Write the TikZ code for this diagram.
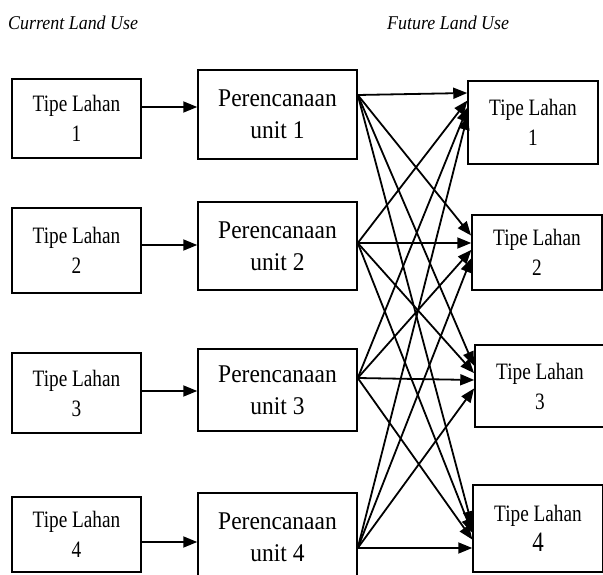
\documentclass[tikz,border=0pt]{standalone}
\usepackage{fontspec}
\setmainfont{Liberation Serif}
\newfontfamily\boxfont{Liberation Serif}[FakeStretch=0.82]
\newfontfamily\unitfont{Liberation Serif}[FakeStretch=0.92]
\usepackage{tikz}
\usetikzlibrary{calc}
\usetikzlibrary{arrows.meta}
\tikzstyle{landnode}=[black, draw=black, line width=1.5pt, shape=rectangle, fill=white, inner sep=0pt, align=center, font=\boxfont\fontsize{23.5}{30}\selectfont]
\tikzstyle{unitnode}=[black, draw=black, line width=1.5pt, shape=rectangle, fill=white, inner sep=0pt, align=center, minimum width=159pt, font=\unitfont\fontsize{25.5}{32}\selectfont]
\tikzstyle{titlenode}=[black, anchor=base west, inner sep=0pt, font=\unitfont\fontsize{19.5}{22}\selectfont\itshape]
\tikzstyle{flow}=[-{Triangle[length=14pt, width=11pt]}, line width=1.8pt, color=black]

\begin{document}
\begin{tikzpicture}[x=1pt, y=-1pt]
\clip (0,0) rectangle (603,575);
\fill[white] (0,0) rectangle (603,575);

\node [titlenode] (cur) at (8,30) {Current Land Use};
\node [titlenode] (fut) at (387,30) {Future Land Use};

\node [landnode, minimum width=129pt, minimum height=79pt] (l1) at (76.5,118.5) {Tipe Lahan\\1};
\node [landnode, minimum width=129pt, minimum height=85pt] (l2) at (76.5,250.5) {Tipe Lahan\\2};
\node [landnode, minimum width=129pt, minimum height=80pt] (l3) at (76.5,393) {Tipe Lahan\\3};
\node [landnode, minimum width=129pt, minimum height=75pt] (l4) at (76.5,534.5) {Tipe Lahan\\4};

\node [unitnode, minimum height=89pt] (u1) at (277.5,114.5) {Perencanaan\\unit 1};
\node [unitnode, minimum height=88pt] (u2) at (277.5,246) {Perencanaan\\unit 2};
\node [unitnode, minimum height=82pt] (u3) at (277.5,390) {Perencanaan\\unit 3};
\node [unitnode, minimum height=89pt] (u4) at (277.5,537.5) {Perencanaan\\unit 4};

\node [landnode, minimum width=130pt, minimum height=83pt] (r1) at (533,122.5) {Tipe Lahan\\1};
\node [landnode, minimum width=130pt, minimum height=75pt] (r2) at (537,252.5) {Tipe Lahan\\2};
\node [landnode, minimum width=130pt, minimum height=82pt] (r3) at (540,386) {Tipe Lahan\\3};
\node [landnode, minimum width=130pt, minimum height=87pt] (r4) at (538,528.5) {Tipe Lahan\\{\fontsize{28}{30}\selectfont 4}};

\draw[flow] (l1.east |- 0,107) -- (u1.west |- 0,107);
\draw[flow] (l2.east |- 0,245) -- (u2.west |- 0,245);
\draw[flow] (l3.east |- 0,391) -- (u3.west |- 0,391);
\draw[flow] (l4.east |- 0,542) -- (u4.west |- 0,542);

\coordinate (s1) at (u1.east |- 0,95);
\coordinate (s2) at (u2.east |- 0,243);
\coordinate (s3) at (u3.east |- 0,378);
\coordinate (s4) at (u4.east |- 0,548);
\coordinate (e1) at (r1.west |- 0,93);
\coordinate (e2) at (r2.west |- 0,243);
\coordinate (e3) at (r3.west |- 0,380);
\coordinate (e4) at (r4.west |- 0,548);

\foreach \i in {1,...,4}{
  \foreach \j in {1,...,4}{
    \draw[flow] (s\i) -- ($(e\j)!0.05!(e\i)$);
  }
}
\end{tikzpicture}
\end{document}
